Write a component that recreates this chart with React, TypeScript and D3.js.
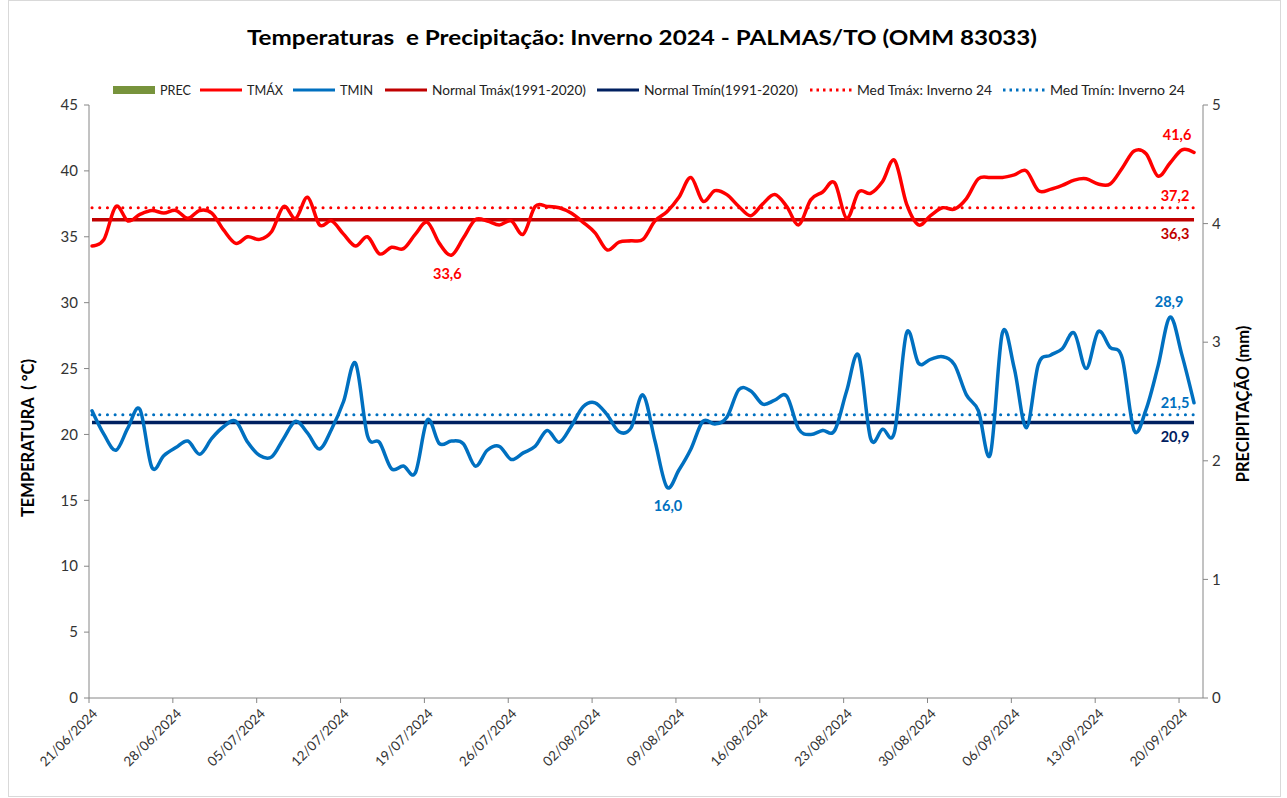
import React, { useRef, useEffect } from 'react';
import * as d3 from 'd3';

const START = new Date(2024, 5, 21);
const AXIS_END = new Date(2024, 8, 22);

const tmax = [
  34.3, 34.8, 37.3, 36.2, 36.7, 37.0, 36.8, 37.0, 36.4, 37.0,
  36.8, 35.5, 34.5, 35.0, 34.8, 35.4, 37.3, 36.4, 38.0, 35.9,
  36.2, 35.2, 34.3, 35.0, 33.7, 34.2, 34.1, 35.2, 36.1, 34.5,
  33.6, 34.9, 36.3, 36.2, 35.9, 36.2, 35.2, 37.3, 37.3, 37.2,
  36.8, 36.1, 35.3, 34.0, 34.6, 34.7, 34.8, 36.2, 36.9, 38.0,
  39.5, 37.7, 38.5, 38.2, 37.3, 36.6, 37.5, 38.2, 37.3, 35.9,
  37.8, 38.4, 39.1, 36.4, 38.4, 38.3, 39.2, 40.8, 37.5, 35.9,
  36.6, 37.2, 37.1, 37.9, 39.4, 39.5, 39.5, 39.7, 40.0, 38.5,
  38.6, 38.9, 39.3, 39.4, 39.0, 39.0, 40.2, 41.5, 41.3, 39.6,
  40.6, 41.6, 41.4,
];

const tmin = [
  21.8, 20.0, 18.8, 20.5, 21.9, 17.5, 18.4, 19.0, 19.5, 18.5,
  19.7, 20.6, 21.0, 19.4, 18.4, 18.3, 19.7, 21.0, 20.1, 18.9,
  20.4, 22.5, 25.4, 19.9, 19.4, 17.4, 17.6, 17.1, 21.1, 19.3,
  19.5, 19.3, 17.6, 18.8, 19.1, 18.1, 18.6, 19.1, 20.3, 19.4,
  20.6, 22.1, 22.4, 21.5, 20.2, 20.5, 23.0, 19.5, 16.0, 17.3,
  18.9, 21.0, 20.8, 21.3, 23.4, 23.3, 22.3, 22.6, 22.9, 20.4,
  20.0, 20.3, 20.3, 23.3, 26.0, 19.7, 20.4, 20.2, 27.7, 25.4,
  25.7, 25.9, 25.3, 23.0, 21.8, 18.5, 27.7, 25.0, 20.5, 25.3,
  26.0, 26.5, 27.7, 25.0, 27.8, 26.6, 25.8, 20.3, 21.9, 25.2,
  28.9, 26.0, 22.4,
];

const prec = tmax.map(() => 0);

const normalTmax = 36.3;
const normalTmin = 20.9;
const medTmax = 37.2;
const medTmin = 21.5;

const tempTicks = [0, 5, 10, 15, 20, 25, 30, 35, 40, 45];
const precTicks = [0, 1, 2, 3, 4, 5];

const legendItems = [
  { label: 'PREC', kind: 'bar', color: '#77933C', x: 113, w: 78 },
  { label: 'TMÁX', kind: 'line', color: '#FF0000', x: 200, w: 83 },
  { label: 'TMIN', kind: 'line', color: '#0070C0', x: 293, w: 80 },
  { label: 'Normal Tmáx(1991-2020)', kind: 'line', color: '#C00000', x: 385, w: 201 },
  { label: 'Normal Tmín(1991-2020)', kind: 'line', color: '#002060', x: 597, w: 201 },
  { label: 'Med Tmáx: Inverno 24', kind: 'dot', color: '#FF0000', x: 810, w: 182 },
  { label: 'Med Tmín: Inverno 24', kind: 'dot', color: '#0070C0', x: 1003, w: 182 },
];

const fmt = (v: number) => v.toFixed(1).replace('.', ',');

export default function App() {
  const ref = useRef<SVGSVGElement>(null);
  const width = 1287;
  const height = 798;

  useEffect(() => {
    const svg = d3.select(ref.current);
    svg.selectAll('*').remove();

    const font = 'Lato, "Open Sans", sans-serif';
    // daily readings, plotted a quarter day into each date slot
    const dates = tmax.map((_, i) => d3.timeHour.offset(d3.timeDay.offset(START, i), 6));

    const x = d3.scaleTime().domain([START, AXIS_END]).range([89, 1203]);
    const y = d3.scaleLinear().domain([0, 45]).range([698, 105]);
    const yR = d3.scaleLinear().domain([0, 5]).range([698, 105]);

    svg.append('rect')
      .attr('x', 8.5).attr('y', 0.5)
      .attr('width', 1272).attr('height', 796)
      .attr('fill', '#fff').attr('stroke', '#d9d9d9');

    // title
    svg.append('text')
      .attr('x', 642).attr('y', 45)
      .attr('text-anchor', 'middle')
      .attr('font-family', font).attr('font-weight', 700).attr('font-size', 21)
      .attr('textLength', 790).attr('lengthAdjust', 'spacingAndGlyphs')
      .style('white-space', 'pre')
      .text('Temperaturas  e Precipitação: Inverno 2024 - PALMAS/TO (OMM 83033)');

    // legend
    const lg = svg.append('g');
    legendItems.forEach((it) => {
      const g = lg.append('g');
      if (it.kind === 'bar') {
        g.append('rect').attr('x', it.x).attr('y', 86).attr('width', 42).attr('height', 8).attr('fill', it.color);
      } else {
        g.append('line')
          .attr('x1', it.x).attr('x2', it.x + 42).attr('y1', 90).attr('y2', 90)
          .attr('stroke', it.color).attr('stroke-width', 3)
          .attr('stroke-dasharray', it.kind === 'dot' ? '2.5,4' : null);
      }
      g.append('text')
        .attr('x', it.x + 47).attr('y', 94.5)
        .attr('font-family', font).attr('font-size', 12.5).attr('fill', '#222')
        .attr('textLength', it.w - 47).attr('lengthAdjust', 'spacingAndGlyphs')
        .text(it.label);
    });

    const axisColor = '#868686';
    const tickColor = '#333';

    // left axis
    const la = svg.append('g');
    la.append('line').attr('x1', 89).attr('x2', 89).attr('y1', 105).attr('y2', 698).attr('stroke', axisColor);
    tempTicks.forEach((t) => {
      la.append('line').attr('x1', 84).attr('x2', 89).attr('y1', y(t)).attr('y2', y(t)).attr('stroke', axisColor);
      la.append('text').attr('x', 78).attr('y', y(t)).attr('dy', '0.35em')
        .attr('text-anchor', 'end').attr('font-family', font).attr('font-size', 15).attr('fill', tickColor)
        .text(t);
    });

    // right axis
    const ra = svg.append('g');
    ra.append('line').attr('x1', 1203).attr('x2', 1203).attr('y1', 105).attr('y2', 698).attr('stroke', axisColor);
    precTicks.forEach((t) => {
      ra.append('line').attr('x1', 1203).attr('x2', 1208).attr('y1', yR(t)).attr('y2', yR(t)).attr('stroke', axisColor);
      ra.append('text').attr('x', 1212).attr('y', yR(t)).attr('dy', '0.35em')
        .attr('font-family', font).attr('font-size', 15).attr('fill', tickColor)
        .text(t);
    });

    // x axis
    const xa = svg.append('g');
    xa.append('line').attr('x1', 89).attr('x2', 1203).attr('y1', 698).attr('y2', 698).attr('stroke', axisColor);
    const xTicks = d3.timeDay.range(START, AXIS_END, 7);
    const dfmt = d3.timeFormat('%d/%m/%Y');
    xTicks.forEach((d) => {
      const px = x(d);
      xa.append('line').attr('x1', px).attr('x2', px).attr('y1', 698).attr('y2', 703).attr('stroke', axisColor);
      xa.append('text')
        .attr('transform', `translate(${px + 6},${711}) rotate(-45)`)
        .attr('text-anchor', 'end').attr('dy', '0.35em')
        .attr('font-family', font).attr('font-size', 13.5).attr('fill', tickColor)
        .text(dfmt(d));
    });

    // axis titles
    svg.append('text')
      .attr('transform', 'translate(34,438) rotate(-90)')
      .attr('text-anchor', 'middle')
      .attr('font-family', font).attr('font-weight', 700).attr('font-size', 16.5)
      .style('white-space', 'pre')
      .text('TEMPERATURA  ( °C)');
    svg.append('text')
      .attr('transform', 'translate(1249,404) rotate(-90)')
      .attr('text-anchor', 'middle')
      .attr('font-family', font).attr('font-weight', 700).attr('font-size', 16.5)
      .text('PRECIPITAÇÃO (mm)');

    // precipitation bars (all zero)
    svg.append('g').selectAll('rect').data(prec).enter().append('rect')
      .attr('x', (_, i) => x(dates[i]) - 3)
      .attr('y', (d) => yR(d))
      .attr('width', 6)
      .attr('height', (d) => yR(0) - yR(d))
      .attr('fill', '#77933C');

    // reference lines
    const refLine = (v: number, color: string, dotted: boolean) => {
      svg.append('line')
        .attr('x1', x(dates[0])).attr('x2', x(dates[dates.length - 1]))
        .attr('y1', y(v)).attr('y2', y(v))
        .attr('stroke', color).attr('stroke-width', dotted ? 3 : 3.5)
        .attr('stroke-linecap', dotted ? 'round' : 'butt')
        .attr('stroke-dasharray', dotted ? '0.1,7.6' : null);
    };
    refLine(normalTmax, '#C00000', false);
    refLine(medTmax, '#FF0000', true);
    refLine(normalTmin, '#002060', false);
    refLine(medTmin, '#0070C0', true);

    const line = d3.line<number>()
      .x((_, i) => x(dates[i]))
      .y((d) => y(d))
      .curve(d3.curveCardinal.tension(0));

    svg.append('path').attr('d', line(tmax)).attr('fill', 'none')
      .attr('stroke', '#FF0000').attr('stroke-width', 3.5).attr('stroke-linejoin', 'round').attr('stroke-linecap', 'round');
    svg.append('path').attr('d', line(tmin)).attr('fill', 'none')
      .attr('stroke', '#0070C0').attr('stroke-width', 3.5).attr('stroke-linejoin', 'round').attr('stroke-linecap', 'round');

    // data labels
    const label = (xv: number, yv: number, text: string, color: string) => {
      svg.append('text').attr('x', xv).attr('y', yv)
        .attr('text-anchor', 'middle')
        .attr('font-family', font).attr('font-weight', 700).attr('font-size', 14.5)
        .attr('fill', color).text(text);
    };
    const iMaxT = d3.maxIndex(tmax);
    const iMinT = d3.minIndex(tmax);
    const iMaxN = d3.maxIndex(tmin);
    const iMinN = d3.minIndex(tmin);
    const lx = x(dates[dates.length - 1]) - 19;
    label(x(dates[iMaxT]) - 5, y(tmax[iMaxT]) - 10, fmt(tmax[iMaxT]), '#FF0000');
    label(x(dates[iMinT]) - 4, y(tmax[iMinT]) + 24, fmt(tmax[iMinT]), '#FF0000');
    label(lx, y(medTmax) - 7, fmt(medTmax), '#FF0000');
    label(lx, y(normalTmax) + 19, fmt(normalTmax), '#C00000');
    label(x(dates[iMaxN]) - 1, y(tmin[iMaxN]) - 10, fmt(tmin[iMaxN]), '#0070C0');
    label(x(dates[iMinN]) + 1, y(tmin[iMinN]) + 24, fmt(tmin[iMinN]), '#0070C0');
    label(lx, y(medTmin) - 7, fmt(medTmin), '#0070C0');
    label(lx, y(normalTmin) + 19, fmt(normalTmin), '#002060');
  }, []);

  return (
    <svg
      ref={ref}
      width={width}
      height={height}
      style={{ position: 'absolute', left: 0, top: 0 }}
    ></svg>
  );
}
